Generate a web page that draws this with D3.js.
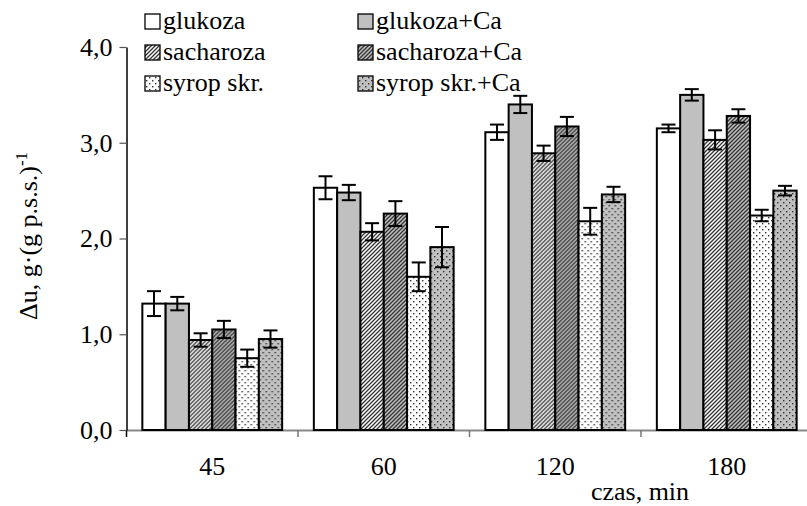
<!DOCTYPE html>
<html>
<head>
<meta charset="utf-8">
<script src="https://cdn.jsdelivr.net/npm/d3@7"></script>
<style>
  body { margin: 0; background: #fff; }
</style>
</head>
<body>
<div id="chart"></div>
<script>
const categories = ['45', '60', '120', '180'];
const series = ['glukoza', 'glukoza+Ca', 'sacharoza', 'sacharoza+Ca', 'syrop skr.', 'syrop skr.+Ca'];
// values per series, one entry per category
const glukoza = [1.32, 2.53, 3.11, 3.15];
const glukozaCa = [1.32, 2.48, 3.40, 3.50];
const sacharoza = [0.94, 2.07, 2.89, 3.03];
const sacharozaCa = [1.05, 2.26, 3.17, 3.28];
const syrop = [0.75, 1.60, 2.18, 2.24];
const syropCa = [0.95, 1.91, 2.46, 2.50];
// error bar half-lengths
const errGlukoza = [0.13, 0.12, 0.08, 0.04];
const errGlukozaCa = [0.07, 0.08, 0.09, 0.06];
const errSacharoza = [0.07, 0.09, 0.08, 0.10];
const errSacharozaCa = [0.09, 0.13, 0.10, 0.07];
const errSyrop = [0.09, 0.15, 0.14, 0.06];
const errSyropCa = [0.09, 0.21, 0.08, 0.05];
const yTicks = [0, 1, 2, 3, 4];

const values = [glukoza, glukozaCa, sacharoza, sacharozaCa, syrop, syropCa];
const errors = [errGlukoza, errGlukozaCa, errSacharoza, errSacharozaCa, errSyrop, errSyropCa];
const fills = ['#fff', '#c0c0c0', 'url(#hatchW)', 'url(#hatchG)', 'url(#dotW)', 'url(#dotG)'];

const width = 807, height = 506;
const x0 = 126.5, yBase = 430, yTop = 47;
const serif = "'Liberation Serif', serif";
const fs = '26px';

const svg = d3.select('#chart').append('svg')
  .attr('width', width)
  .attr('height', height)
  .style('font-family', serif);

const defs = svg.append('defs');
function hatch(id, bg) {
  const p = defs.append('pattern').attr('id', id)
    .attr('patternUnits', 'userSpaceOnUse').attr('width', 4).attr('height', 4);
  p.append('rect').attr('width', 4).attr('height', 4).attr('fill', bg);
  p.append('path').attr('d', 'M-1,1 L1,-1 M0,4 L4,0 M3,5 L5,3')
    .attr('stroke', '#333').attr('stroke-width', 1.3);
}
function dots(id, bg) {
  const p = defs.append('pattern').attr('id', id)
    .attr('patternUnits', 'userSpaceOnUse').attr('width', 6).attr('height', 6);
  p.append('rect').attr('width', 6).attr('height', 6).attr('fill', bg);
  p.append('rect').attr('x', 1).attr('y', 1).attr('width', 1.4).attr('height', 1.4).attr('fill', '#333');
  p.append('rect').attr('x', 4).attr('y', 4).attr('width', 1.4).attr('height', 1.4).attr('fill', '#333');
}
hatch('hatchW', '#fff');
hatch('hatchG', '#c0c0c0');
dots('dotW', '#fff');
dots('dotG', '#c0c0c0');

const x = d3.scaleBand()
  .domain(categories)
  .range([x0, x0 + 4 * 171.5]);

const xs = d3.scaleBand()
  .domain(series)
  .range([0, x.bandwidth()])
  .paddingOuter(0.68);

const y = d3.scaleLinear()
  .domain([0, 4])
  .range([yBase, yTop]);

// x axis
const xAxis = svg.append('g')
  .attr('transform', `translate(0,${yBase})`)
  .call(d3.axisBottom(x).tickSize(0).tickFormat(''));
xAxis.select('.domain').attr('stroke', '#888').attr('stroke-width', 2);
xAxis.selectAll('.tick').remove();

svg.append('g').selectAll('line')
  .data(categories)
  .enter().append('line')
  .attr('x1', d => x(d)).attr('x2', d => x(d))
  .attr('y1', yBase).attr('y2', yBase + 7)
  .attr('stroke', d => d === categories[0] ? '#000' : '#777')
  .attr('stroke-width', 1.5);

svg.append('g').selectAll('text')
  .data(categories)
  .enter().append('text')
  .attr('x', d => x(d) + x.bandwidth() / 2)
  .attr('y', 475)
  .attr('text-anchor', 'middle')
  .style('font-family', serif)
  .style('font-size', fs)
  .text(d => d);

// y axis
const yAxis = svg.append('g')
  .attr('transform', `translate(${x0},0)`)
  .call(d3.axisLeft(y).tickValues(yTicks).tickSize(7).tickSizeOuter(0)
    .tickFormat(d => d3.format('.1f')(d).replace('.', ',')));
yAxis.select('.domain').attr('stroke', '#000').attr('stroke-width', 1.5);
yAxis.selectAll('.tick line').attr('stroke', '#555').attr('stroke-width', 1.2);
yAxis.selectAll('.tick text')
  .style('font-family', serif)
  .style('font-size', fs)
  .attr('fill', '#000')
  .attr('x', -14);

// bars
const groups = svg.append('g').selectAll('g')
  .data(categories)
  .enter().append('g')
  .attr('transform', d => `translate(${x(d)},0)`);

groups.selectAll('rect')
  .data((d, ci) => series.map((s, si) => ({ s, si, v: values[si][ci], e: errors[si][ci] })))
  .enter().append('rect')
  .attr('x', d => xs(d.s))
  .attr('y', d => y(d.v))
  .attr('width', xs.bandwidth())
  .attr('height', d => yBase - y(d.v))
  .attr('fill', d => fills[d.si])
  .attr('stroke', '#000')
  .attr('stroke-width', 2);

// error bars
const eb = groups.selectAll('g.err')
  .data((d, ci) => series.map((s, si) => ({ s, v: values[si][ci], e: errors[si][ci] })))
  .enter().append('g')
  .attr('class', 'err')
  .attr('stroke', '#000')
  .attr('stroke-width', 2);
eb.append('line')
  .attr('x1', d => xs(d.s) + xs.bandwidth() / 2)
  .attr('x2', d => xs(d.s) + xs.bandwidth() / 2)
  .attr('y1', d => y(d.v - d.e))
  .attr('y2', d => y(d.v + d.e));
eb.append('line')
  .attr('x1', d => xs(d.s) + xs.bandwidth() / 2 - 7)
  .attr('x2', d => xs(d.s) + xs.bandwidth() / 2 + 7)
  .attr('y1', d => y(d.v + d.e))
  .attr('y2', d => y(d.v + d.e));
eb.append('line')
  .attr('x1', d => xs(d.s) + xs.bandwidth() / 2 - 7)
  .attr('x2', d => xs(d.s) + xs.bandwidth() / 2 + 7)
  .attr('y1', d => y(d.v - d.e))
  .attr('y2', d => y(d.v - d.e));

// legend
const legend = svg.append('g').selectAll('g')
  .data(series)
  .enter().append('g')
  .attr('transform', (d, i) => `translate(${i % 2 === 0 ? 145 : 358},${29 + Math.floor(i / 2) * 31})`);
legend.append('rect')
  .attr('y', -15)
  .attr('width', 15).attr('height', 15)
  .attr('fill', (d, i) => fills[i])
  .attr('stroke', '#000').attr('stroke-width', 1.3);
legend.append('text')
  .attr('x', 18).attr('y', 0)
  .style('font-family', serif)
  .style('font-size', fs)
  .text(d => d);

// axis titles
svg.append('text')
  .attr('x', 640).attr('y', 500)
  .attr('text-anchor', 'middle')
  .style('font-family', serif)
  .style('font-size', fs)
  .text('czas, min');

const yl = svg.append('text')
  .attr('transform', 'translate(37,320) rotate(-90)')
  .style('font-family', serif)
  .style('font-size', fs);
yl.append('tspan').text('\u0394u, g\u00b7(g p.s.s.)');
yl.append('tspan').attr('dy', -10).style('font-size', '17px').text('-1');
</script>
</body>
</html>
